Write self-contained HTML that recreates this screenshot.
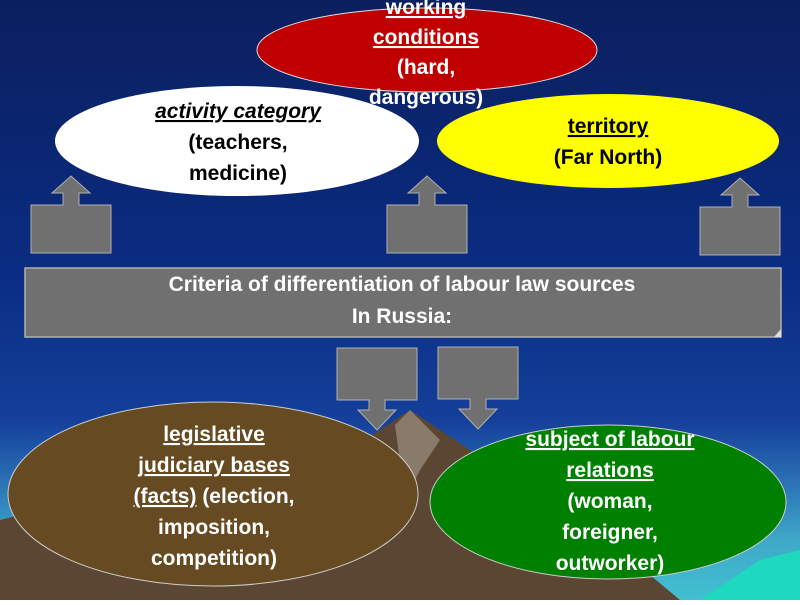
<!DOCTYPE html>
<html><head><meta charset="utf-8"><style>
body{margin:0;width:800px;height:600px;overflow:hidden}
svg text{font-family:"Liberation Sans",Arial,sans-serif;font-weight:bold;font-size:21px}
</style></head><body>
<svg width="800" height="600" viewBox="0 0 800 600" xmlns="http://www.w3.org/2000/svg">
<defs>
<linearGradient id="bg" x1="0" y1="0" x2="0" y2="1">
<stop offset="0" stop-color="#0b1f5e"/>
<stop offset="0.45" stop-color="#0a2c82"/>
<stop offset="0.7" stop-color="#143f9a"/>
<stop offset="0.8" stop-color="#2a6fb5"/>
<stop offset="0.9" stop-color="#3fa8c8"/>
<stop offset="1" stop-color="#40c0d0"/>
</linearGradient>
</defs>
<rect width="800" height="600" fill="url(#bg)"/>
<polygon points="700,600 760,560 800,550 800,600" fill="#1fd8c0"/>
<polygon points="0,600 0,520 60,505 120,470 200,470 300,480 380,430 410,410 440,430 500,470 560,510 620,550 680,600" fill="#5a4632"/>
<polygon points="395,425 410,410 440,440 420,470 405,500" fill="#8a7a6a"/>
<g fill="#707070" stroke="#b0b0b0" stroke-width="1">
<polygon points="31,205 63,205 63,193 52,193 71,176 90,193 79,193 79,205 111,205 111,253 31,253"/>
<polygon points="387,205 419,205 419,193 408,193 427,176 446,193 435,193 435,205 467,205 467,253 387,253"/>
<polygon points="700,207 732,207 732,195 721,195 740,178 759,195 748,195 748,207 780,207 780,255 700,255"/>
<polygon points="337,348 417,348 417,400 385,400 385,410 396,410 377,430 358,410 369,410 369,400 337,400"/>
<polygon points="438,347 518,347 518,399 486,399 486,409 497,409 478,429 459,409 470,409 470,399 438,399"/>
</g>
<rect x="25" y="268" width="756" height="69" fill="#707070" stroke="#b0b0b0" stroke-width="1.5"/>
<polygon points="774,337 781,329 781,337" fill="#ddd"/>
<text x="402" y="291" fill="#fff" text-anchor="middle">Criteria of differentiation of labour law sources</text>
<text x="402" y="323" fill="#fff" text-anchor="middle">In Russia:</text>
<ellipse cx="427" cy="50" rx="170" ry="42" fill="#c00000" stroke="#ddd" stroke-width="1"/>
<ellipse cx="237" cy="141" rx="182" ry="55" fill="#ffffff"/>
<ellipse cx="608" cy="141" rx="171" ry="47" fill="#ffff00"/>
<g fill="#fff" text-anchor="middle">
<text x="426" y="14" text-decoration="underline">working</text>
<text x="426" y="44" text-decoration="underline">conditions</text>
<text x="426" y="74">(hard,</text>
<text x="426" y="104">dangerous)</text>
</g>
<g fill="#000" text-anchor="middle">
<text x="238" y="118" font-style="italic" text-decoration="underline">activity category</text>
<text x="238" y="149">(teachers,</text>
<text x="238" y="180">medicine)</text>
<text x="608" y="133" text-decoration="underline">territory</text>
<text x="608" y="164">(Far North)</text>
</g>
<ellipse cx="213" cy="494" rx="205" ry="92" fill="#654a22" stroke="#ccc" stroke-width="1"/>
<ellipse cx="608" cy="502" rx="178" ry="77" fill="#008000" stroke="#ccc" stroke-width="1"/>
<g fill="#fff" text-anchor="middle">
<text x="214" y="441" text-decoration="underline">legislative</text>
<text x="214" y="472" text-decoration="underline">judiciary bases</text>
<text x="214" y="503"><tspan text-decoration="underline">(facts)</tspan>  (election,</text>
<text x="214" y="534">imposition,</text>
<text x="214" y="565">competition)</text>
<text x="610" y="446" text-decoration="underline">subject of labour</text>
<text x="610" y="477" text-decoration="underline">relations</text>
<text x="610" y="508">(woman,</text>
<text x="610" y="539">foreigner,</text>
<text x="610" y="570">outworker)</text>
</g>
</svg>
</body></html>
